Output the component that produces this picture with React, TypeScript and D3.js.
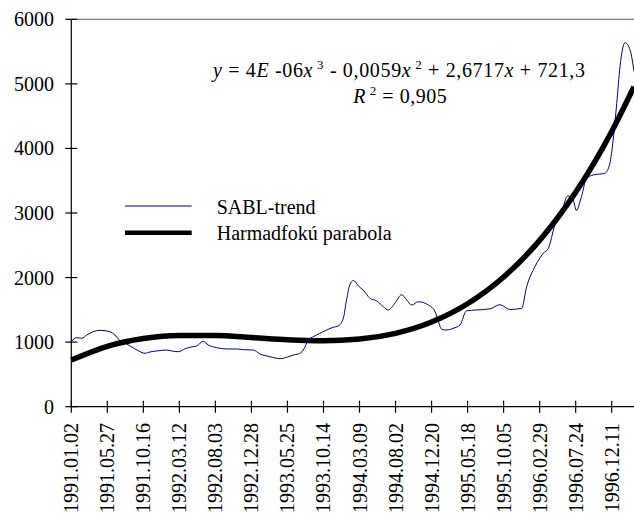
import React from "react";
import * as d3 from "d3";

// Trading-day index of each tick and its date label
const tickDays = [0, 100, 200, 300, 400, 500, 600, 700, 800, 900, 1000, 1100, 1200, 1300, 1400, 1500];
const tickLabels = [
  "1991.01.02", "1991.05.27", "1991.10.16", "1992.03.12", "1992.08.03", "1992.12.28",
  "1993.05.25", "1993.10.14", "1994.03.09", "1994.08.02", "1994.12.20", "1995.05.18",
  "1995.10.05", "1996.02.29", "1996.07.24", "1996.12.11",
];
const yTicks = [0, 1000, 2000, 3000, 4000, 5000, 6000];

// SABL-trend
const sablDay = [
  0, 15, 29, 43, 61, 80, 107, 121, 135, 154, 182, 205, 218, 237, 265, 279, 297, 316, 334, 348,
  366, 380, 404, 431, 459, 477, 505, 524, 551, 579, 598, 616, 630, 644, 658, 672, 690, 709, 727,
  741, 755, 764, 773, 783, 797, 810, 829, 848, 866, 880, 898, 917, 931, 945, 963, 991, 1009, 1019,
  1028, 1042, 1060, 1079, 1097, 1125, 1162, 1190, 1217, 1250, 1264, 1287, 1310, 1324, 1342, 1361,
  1378, 1393, 1402, 1416, 1430, 1449, 1481, 1495, 1504, 1514, 1523, 1537, 1551, 1562,
];
const sablValue = [
  1010, 1069, 1060, 1110, 1162, 1183, 1162, 1110, 1022, 971, 878, 827, 847, 863, 878, 863, 852, 898, 925, 940,
  1013, 956, 914, 894, 894, 883, 878, 816, 775, 744, 765, 801, 816, 878, 1033, 1084, 1137, 1188, 1230,
  1250, 1369, 1653, 1885, 1955, 1870, 1808, 1679, 1637, 1549, 1498, 1601, 1735, 1653, 1575, 1626, 1575, 1480, 1320,
  1199, 1188, 1214, 1266, 1485, 1498, 1515, 1580, 1505, 1524, 1859, 2169, 2376, 2450, 2810, 3021,
  3265, 3202, 3040, 3253, 3538, 3589, 3615, 3770, 4131, 4700, 5267, 5638, 5525, 5189,
];

// Harmadfokú parabola
const polyDay = [0, 100, 200, 300, 400, 500, 600, 700, 800, 900, 1000, 1100, 1200, 1300, 1400, 1500, 1562];
const polyValue = [722, 936, 1056, 1103, 1101, 1072, 1038, 1023, 1048, 1136, 1311, 1594, 2008, 2576, 3320, 4263, 4957];

const W = 634;
const H = 515;
const X0 = 71.3;
const Y_TOP = 19.3;
const Y_BOT = 406.7;

export default function App() {
  const x = d3.scaleLinear().domain([0, 1500]).range([X0, 611.7]);
  const y = d3.scaleLinear().domain([0, 6000]).range([Y_BOT, Y_TOP]);

  const sablLine = d3
    .line<number>()
    .x((_, i) => x(sablDay[i]))
    .y((v) => y(v))
    .curve(d3.curveMonotoneX)(sablValue) as string;

  const polyLine = d3
    .line<number>()
    .x((_, i) => x(polyDay[i]))
    .y((v) => y(v))
    .curve(d3.curveMonotoneX)(polyValue) as string;

  const ts = { fontFamily: '"Liberation Serif"' };

  return (
    <svg width={W} height={H} style={{ position: "absolute", left: 0, top: 0 }}>
      <rect x={0} y={0} width={W} height={H} fill="#fff" />
      {/* top border of plot area */}
      <line x1={X0} x2={W} y1={Y_TOP} y2={Y_TOP} stroke="#808080" strokeWidth={1.2} />

      {/* lines */}
      <path d={sablLine} fill="none" stroke="#000080" strokeWidth={1} />
      <path d={polyLine} fill="none" stroke="#000" strokeWidth={5.5} />

      {/* y axis */}
      <line x1={X0} x2={X0} y1={Y_TOP} y2={Y_BOT} stroke="#000" strokeWidth={1.2} />
      {yTicks.map((t) => (
        <g key={t}>
          <line x1={X0 - 6} x2={X0 + 6} y1={y(t)} y2={y(t)} stroke="#000" strokeWidth={1.2} />
          <text x={54} y={y(t) + 7} textAnchor="end" fontSize={20} style={ts}>
            {t}
          </text>
        </g>
      ))}

      {/* x axis */}
      <line x1={X0} x2={W} y1={Y_BOT} y2={Y_BOT} stroke="#000" strokeWidth={1.2} />
      {tickDays.map((d, i) => (
        <g key={d}>
          <line x1={x(d)} x2={x(d)} y1={Y_BOT - 6} y2={Y_BOT + 6} stroke="#000" strokeWidth={1.2} />
          <text
            transform={`translate(${x(d) + 7},${423}) rotate(-90)`}
            textAnchor="end"
            fontSize={20}
            style={ts}
          >
            {tickLabels[i]}
          </text>
        </g>
      ))}

      {/* legend */}
      <line x1={125} x2={191.7} y1={206} y2={206} stroke="#000080" strokeWidth={1} />
      <text x={216.7} y={214.3} fontSize={20} style={ts}>SABL-trend</text>
      <line x1={125} x2={191.7} y1={232.7} y2={232.7} stroke="#000" strokeWidth={4.5} />
      <text x={216.7} y={240} fontSize={20} style={ts}>Harmadfokú parabola</text>

      {/* equation */}
      <text x={213} y={76.5} fontSize={20} style={ts} textLength={372} lengthAdjust="spacing">
        <tspan fontStyle="italic">y</tspan>
        <tspan> = 4</tspan>
        <tspan fontStyle="italic">E</tspan>
        <tspan> -06</tspan>
        <tspan fontStyle="italic">x</tspan>
        <tspan dy={-8} fontSize={13}> 3</tspan>
        <tspan dy={8}> - 0,0059</tspan>
        <tspan fontStyle="italic">x</tspan>
        <tspan dy={-8} fontSize={13}> 2</tspan>
        <tspan dy={8}> + 2,6717</tspan>
        <tspan fontStyle="italic">x</tspan>
        <tspan> + 721,3</tspan>
      </text>
      <text x={353.3} y={103.3} fontSize={20} style={ts} textLength={93.4} lengthAdjust="spacing">
        <tspan fontStyle="italic">R</tspan>
        <tspan dy={-8} fontSize={13}> 2</tspan>
        <tspan dy={8}> = 0,905</tspan>
      </text>
    </svg>
  );
}
